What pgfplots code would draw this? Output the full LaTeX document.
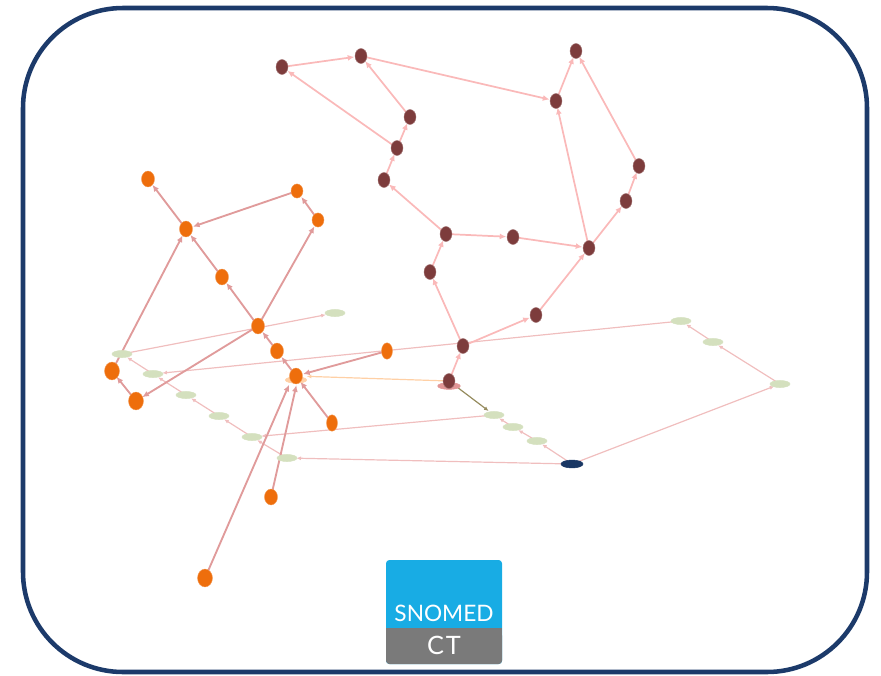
\documentclass[border=0pt]{standalone}
\usepackage{pgfplots}
\pgfplotsset{compat=1.18}
\usetikzlibrary{arrows.meta}
\usepackage{fontspec}
\setmainfont{Lato}
\definecolor{borderc}{RGB}{28,58,106}
\definecolor{orangec}{RGB}{238,110,12}
\definecolor{brownc}{RGB}{125,60,60}
\definecolor{greenc}{RGB}{212,224,190}
\definecolor{navyc}{RGB}{25,55,100}
\definecolor{oedge}{RGB}{224,155,155}
\definecolor{bedge}{RGB}{250,185,185}
\definecolor{gedge}{RGB}{240,190,190}
\definecolor{lorange}{RGB}{255,208,165}
\definecolor{olivec}{RGB}{150,140,95}
\definecolor{logoblue}{RGB}{24,172,228}
\definecolor{logogray}{RGB}{122,122,122}
\definecolor{hlpink}{RGB}{225,150,150}
\begin{document}
\begin{tikzpicture}
\begin{axis}[
  scale only axis, width=660.75pt, height=506.25pt,
  xmin=0, xmax=881, ymin=0, ymax=675, y dir=reverse,
  hide axis, clip=false,
  oe/.style={oedge, line width=1.4pt, -{Latex[length=5pt,width=4.5pt]}, shorten >=5.5pt},
  be/.style={bedge, line width=1.3pt, -{Latex[length=5pt,width=4.5pt]}, shorten >=5pt},
  ge/.style={gedge, line width=0.9pt, -{Latex[length=3.5pt,width=3pt]}, shorten >=4.5pt},
  geh/.style={gedge, line width=0.9pt, -{Latex[length=3.5pt,width=3pt]}, shorten >=7pt},
]
\path (axis cs:0,0) rectangle (axis cs:881,675);
% border
\draw[borderc, line width=3.4pt, rounded corners=75pt] (axis cs:23,8) rectangle (axis cs:867,672);

% green edges
\addplot[geh] coordinates {(122,354) (335,313)};
\addplot[geh] coordinates {(681,321) (153,374)};
\addplot[ge] coordinates {(713,342) (681,321)};
\addplot[ge] coordinates {(780,384) (713,342)};
\addplot[ge] coordinates {(572,464) (780,384)};
\addplot[ge] coordinates {(572,464) (537,441)};
\addplot[ge] coordinates {(537,441) (513,427)};
\addplot[ge] coordinates {(513,427) (494,415)};
\addplot[geh] coordinates {(494,415) (252,437)};
\addplot[geh] coordinates {(572,464) (287,458)};
\addplot[ge] coordinates {(287,458) (252,437)};
\addplot[ge] coordinates {(252,437) (219,416)};
\addplot[ge] coordinates {(219,416) (186,395)};
\addplot[ge] coordinates {(186,395) (153,374)};
\addplot[ge] coordinates {(153,374) (122,354)};

% special edges
\addplot[lorange, line width=0.9pt, -{Latex[length=3.5pt,width=3pt]}, shorten >=8pt] coordinates {(449,381) (296,376)};
\addplot[olivec, line width=0.9pt, -{Latex[length=3.5pt,width=3pt]}, shorten >=5pt] coordinates {(449,381) (494,415)};

% orange edges
\addplot[oe] coordinates {(186,229) (148,179)};
\addplot[oe] coordinates {(297,191) (186,229)};
\addplot[oe] coordinates {(318,220) (297,191)};
\addplot[oe] coordinates {(258,326) (318,220)};
\addplot[oe] coordinates {(222,277) (186,229)};
\addplot[oe] coordinates {(258,326) (222,277)};
\addplot[oe] coordinates {(277,351) (258,326)};
\addplot[oe] coordinates {(296,376) (277,351)};
\addplot[oe] coordinates {(387,351) (296,376)};
\addplot[oe] coordinates {(112,371) (186,229)};
\addplot[oe] coordinates {(136,401) (112,371)};
\addplot[oe] coordinates {(258,326) (136,401)};
\addplot[oe] coordinates {(332,423) (296,376)};
\addplot[oe] coordinates {(271,497) (298,378)};
\addplot[oe] coordinates {(205,578) (292,378)};

% brown edges
\addplot[be] coordinates {(282,67) (361,56)};
\addplot[be] coordinates {(361,56) (556,101)};
\addplot[be] coordinates {(556,101) (576,51)};
\addplot[be] coordinates {(639,166) (576,51)};
\addplot[be] coordinates {(626,201) (639,166)};
\addplot[be] coordinates {(589,248) (626,201)};
\addplot[be] coordinates {(589,248) (556,101)};
\addplot[be] coordinates {(410,117) (361,56)};
\addplot[be] coordinates {(397,148) (410,117)};
\addplot[be] coordinates {(397,148) (282,67)};
\addplot[be] coordinates {(384,180) (397,148)};
\addplot[be] coordinates {(446,234) (384,180)};
\addplot[be] coordinates {(446,234) (513,237)};
\addplot[be] coordinates {(513,237) (589,248)};
\addplot[be] coordinates {(536,315) (589,248)};
\addplot[be] coordinates {(463,346) (536,315)};
\addplot[be] coordinates {(430,272) (446,234)};
\addplot[be] coordinates {(463,346) (430,272)};
\addplot[be] coordinates {(449,381) (463,346)};

% highlights
\addplot[hlpink, only marks, mark=*, mark size=8.5pt, mark options={yscale=0.3}] coordinates {(449,386)};
\addplot[lorange, only marks, mark=*, mark size=8pt, mark options={yscale=0.3}] coordinates {(296,380)};

% green nodes
\addplot[greenc, only marks, mark=*, mark size=7.5pt, mark options={yscale=0.35}] coordinates {
(335,313) (122,354) (153,374) (186,395) (219,416) (252,437) (287,458)
(494,415) (513,427) (537,441) (681,321) (713,342) (780,384)};
\addplot[navyc, only marks, mark=*, mark size=8.25pt, mark options={yscale=0.36}] coordinates {(572,464)};

% brown nodes
\addplot[brownc, only marks, mark=*, mark size=4.5pt, mark options={fill=brownc, draw=brownc!70!white, line width=0.3pt, yscale=1.25}] coordinates {
(282,67) (361,56) (410,117) (397,148) (384,180) (446,234) (513,237) (589,248)
(536,315) (430,272) (463,346) (449,381) (556,101) (576,51) (639,166) (626,201)};

% orange nodes
\addplot[orangec, only marks, mark=*, mark size=4.9pt, mark options={fill=orangec, draw=orangec!70!white, line width=0.3pt, yscale=1.22}] coordinates {
(148,179) (186,229) (222,277) (258,326) (277,351) (296,376) (271,497)};
\addplot[orangec, only marks, mark=*, mark size=4.5pt, mark options={fill=orangec, draw=orangec!70!white, line width=0.3pt, yscale=1.18}] coordinates {
(297,191) (318,220)};
\addplot[orangec, only marks, mark=*, mark size=4.1pt, mark options={fill=orangec, draw=orangec!70!white, line width=0.3pt, yscale=1.5}] coordinates {
(387,351) (332,423)};
\addplot[orangec, only marks, mark=*, mark size=5.6pt, mark options={fill=orangec, draw=orangec!70!white, line width=0.3pt, yscale=1.2}] coordinates {
(112,371) (136,401) (205,578)};

% logo
\fill[logoblue, rounded corners=2.5pt] (axis cs:386,560) rectangle (axis cs:502,664);
\fill[logogray, rounded corners=2.5pt] (axis cs:386,632) rectangle (axis cs:502,664);
\fill[logogray] (axis cs:386,628) rectangle (axis cs:502,640);
\node[white, anchor=base, font=\fontsize{17pt}{18pt}\selectfont, inner sep=0pt] at (axis cs:444,621) {SNOMED};
\node[white, anchor=base, font=\fontsize{19pt}{20pt}\selectfont, inner sep=0pt] at (axis cs:444,654) {C\kern1.5pt T};
\end{axis}
\end{tikzpicture}
\end{document}
